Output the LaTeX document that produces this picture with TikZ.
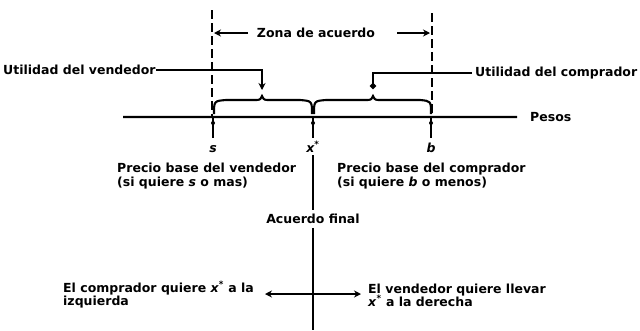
\documentclass[tikz,border=0pt]{standalone}
\usepackage{fontspec}
\setmainfont{DejaVu Sans}
\usetikzlibrary{arrows.meta}
\begin{document}
\begin{tikzpicture}[x=1pt,y=-1pt,
  lbl/.style={inner sep=0pt, font=\fontsize{12.5}{14}\selectfont\bfseries},
  ln/.style={line width=2.1pt},
  dashv/.style={line width=2.4pt, dash pattern=on 9pt off 4pt},
  tip/.style={-{Stealth[length=7pt,width=7pt]}},
  dottip/.style={-{Circle[length=6pt,width=6pt]}},
  dbl/.style={{Stealth[length=7pt,width=7pt]}-{Stealth[length=7pt,width=7pt]}}]
\useasboundingbox[fill=white] (0,0) rectangle (640,330);

% labels
\node[lbl, anchor=base west] (uv) at (3,74.5) {Utilidad del vendedor};
\node[lbl, anchor=base] (za) at (316,37.5) {Zona de acuerdo};
\node[lbl, anchor=base west] (uc) at (475,76.5) {Utilidad del comprador};
\node[lbl, anchor=base west] (pe) at (530,121.5) {Pesos};
\node[lbl, anchor=base] (s) at (213,152) {\itshape s};
\node[lbl, anchor=base] (xs) at (313,152) {\itshape x\textsuperscript{*}};
\node[lbl, anchor=base] (b) at (431,152) {\itshape b};
\node[lbl, anchor=base west] (pv1) at (117,172.5) {Precio base del vendedor};
\node[lbl, anchor=base west] (pv2) at (117,186) {(si quiere \textit{s} o mas)};
\node[lbl, anchor=base west] (pc1) at (337,172.5) {Precio base del comprador};
\node[lbl, anchor=base west] (pc2) at (337,186) {(si quiere \textit{b} o menos)};
\node[lbl, anchor=base] (af) at (313,223.5) {Acuerdo final};
\node[lbl, anchor=base west] (bl1) at (63,292) {El comprador quiere \textit{x}\textsuperscript{*} a la};
\node[lbl, anchor=base west] (bl2) at (63,305) {izquierda};
\node[lbl, anchor=base west] (br1) at (368,293) {El vendedor quiere llevar};
\node[lbl, anchor=base west] (br2) at (368,306) {\textit{x}\textsuperscript{*} a la derecha};

% coordinates
\coordinate (L0) at (212,10);  \coordinate (L1) at (212,117);
\coordinate (R0) at (432,13);  \coordinate (R1) at (432,117);
\coordinate (P0) at (123,117);
\coordinate (zl) at (214,33);  \coordinate (zr) at (430,33);
\coordinate (zls) at (248,33); \coordinate (zrs) at (397,33);
\coordinate (bv) at (262,90);  \coordinate (bc) at (373,89);
\coordinate (ts) at (213,117); \coordinate (te) at (213,138);
\coordinate (tx) at (313,117); \coordinate (txe) at (313,138);
\coordinate (tb) at (431,117); \coordinate (tbe) at (431,138);
\coordinate (vend) at (313,330);
\coordinate (al) at (265,294); \coordinate (ar) at (361,294);

% dashed limits
\draw[dashv] (L0) -- (L1);
\draw[dashv] (R0) -- (R1);

% pesos axis
\draw[ln] (P0) -- ([xshift=-13pt]pe.west);

% ticks
\foreach \a/\e in {ts/te, tx/txe, tb/tbe}{
  \draw[ln] (\a) -- (\e);
  \fill ([yshift=-6pt]\a) circle (2pt);
}

% zona de acuerdo arrows
\draw[ln,tip] (zls) -- (zl);
\draw[ln,tip] (zrs) -- (zr);

% braces
\draw[ln] (214,114) .. controls (214,101) .. (226,100) -- (254,100)
  .. controls (260,100) .. (262,96) .. controls (264,100) .. (270,100)
  -- (300,100) .. controls (312,101) .. (312,114);
\draw[ln] (314,114) .. controls (314,101) .. (326,100) -- (365,100)
  .. controls (371,100) .. (373,96) .. controls (375,100) .. (381,100)
  -- (420,100) .. controls (431,101) .. (431,114);

% utility pointers
\draw[ln,tip] (uv.east) -| (bv);
\draw[ln,dottip] ([xshift=-3pt]uc.west) -| (bc);

% final agreement line
\draw[ln, shorten <=3pt, shorten >=4pt] (xs.south) -- (af.north);
\draw[ln, shorten <=4pt] (af.south) -- (vend);

% bottom double arrow
\draw[ln,dbl] (al) -- (ar);
\end{tikzpicture}
\end{document}
